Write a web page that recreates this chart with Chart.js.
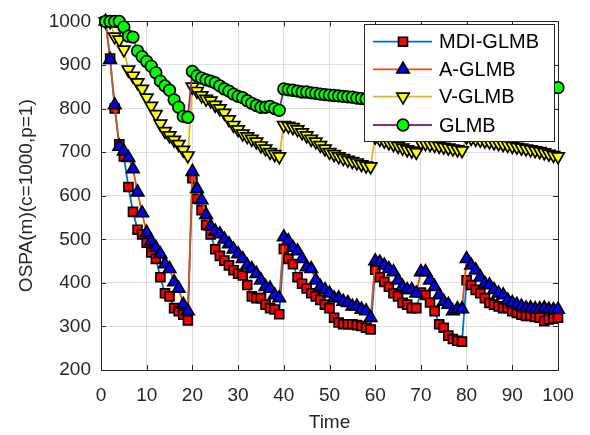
<!DOCTYPE html>
<html><head><meta charset="utf-8">
<script src="https://cdn.jsdelivr.net/npm/chart.js@4/dist/chart.umd.min.js"></script>
<style>html,body{margin:0;padding:0;background:#fff}#wrap{width:590px;height:435px}</style>
</head><body><div id="wrap"><canvas id="c" width="590" height="435"></canvas></div>
<script>
const times = [1,2,3,4,5,6,7,8,9,10,11,12,13,14,15,16,17,18,19,20,21,22,23,24,25,26,27,28,29,30,31,32,33,34,35,36,37,38,39,40,41,42,43,44,45,46,47,48,49,50,51,52,53,54,55,56,57,58,59,60,61,62,63,64,65,66,67,68,69,70,71,72,73,74,75,76,77,78,79,80,81,82,83,84,85,86,87,88,89,90,91,92,93,94,95,96,97,98,99,100];
const seriesNames = ['MDI-GLMB','A-GLMB','V-GLMB','GLMB'];
const mdiGlmb = [1000,915,800,718,690,620,563,522,511,492,470,455,413,376,369,342,335,327,314,
 640,593,567,533,511,477,462,451,440,429,421,417,395,369,365,365,350,342,339,328,
 478,455,443,413,398,387,376,369,361,350,342,320,309,305,305,305,303,301,297,293,
 430,413,402,391,376,369,354,350,342,342,
 378,372,355,335,305,297,279,271,267,265,
 406,395,384,376,365,354,350,346,342,342,335,331,327,324,324,322,320,312,316,318,320];
const aGlmb = [1000,912,808,713,702,687,661,608,560,515,496,481,466,443,432,402,387,350,335,
 655,616,590,556,530,518,512,500,489,477,466,455,440,432,421,406,391,387,372,365,
 505,496,481,473,455,436,432,406,391,384,376,365,365,357,354,346,346,339,335,320,
 450,447,440,432,425,406,391,384,384,376,
 425,425,406,391,372,357,350,335,340,340,
 455,440,429,413,398,395,384,376,372,360,354,350,346,342,342,340,340,342,339,338,339];
const vGlmb = [1000,1000,965,958,935,889,875,860,845,825,806,787,765,748,738,728,718,705,692,
 850,840,830,822,818,808,800,790,775,762,752,742,736,730,724,715,708,700,695,690,
 762,760,757,752,745,738,730,724,716,708,700,695,690,686,682,679,676,672,669,667,
 735,730,726,722,718,714,710,706,703,700,
 722,720,718,716,714,712,710,708,706,704,
 735,732,730,728,726,724,722,720,718,716,714,712,710,708,706,704,702,699,696,693,690];
const glmb = [1000,1000,1000,1000,987,966,964,932,919,908,897,882,863,852,842,820,803,782,780,
 885,875,870,866,863,859,852,845,840,833,828,825,818,812,807,803,803,805,800,796,
 845,843,842,840,838,838,836,835,833,832,831,830,829,828,827,826,824,823,822,820,
 875,872,870,868,866,864,862,860,858,856,
 868,866,864,862,860,858,856,855,854,853,
 865,864,863,862,861,860,859,858,857,856,855,854,853,852,851,851,850,850,849,848,848];
const xTicks = [0,10,20,30,40,50,60,70,80,90,100];
const yTicks = [200,300,400,500,600,700,800,900,1000];
const xTitle = 'Time';
const yTitle = 'OSPA(m)(c=1000,p=1)';

const styles = [
 {line:'#0072BD', fill:'#FF0000', shape:'rect', r:6.3, rot:0, order:4},
 {line:'#D95319', fill:'#0000FF', shape:'triangle', r:7.2, rot:0, order:3},
 {line:'#EDB120', fill:'#FFFF00', shape:'triangle', r:7.2, rot:180, order:2},
 {line:'#7E2F8E', fill:'#00FF00', shape:'circle', r:5.8, rot:0, order:1}
];
const allSeries = [mdiGlmb, aGlmb, vGlmb, glmb];
const datasets = allSeries.map((vals, i) => ({
  label: seriesNames[i],
  data: times.map((t, k) => ({x: t, y: vals[k]})),
  borderColor: styles[i].line,
  borderWidth: 1.8,
  pointStyle: styles[i].shape,
  pointRotation: styles[i].rot,
  pointRadius: styles[i].r,
  pointBackgroundColor: styles[i].fill,
  pointBorderColor: '#000',
  pointBorderWidth: 1.7,
  tension: 0,
  clip: false,
  order: styles[i].order
}));

const FONT = "'Liberation Sans', Arial, Helvetica, sans-serif";
const AX = '#262626';

function drawMarker(ctx, st, x, y) {
  ctx.save();
  ctx.fillStyle = st.fill; ctx.strokeStyle = '#000'; ctx.lineWidth = 1.7;
  ctx.beginPath();
  if (st.shape === 'circle') { ctx.arc(x, y, st.r, 0, Math.PI*2); }
  else if (st.shape === 'rect') { const h = st.r*Math.SQRT1_2; ctx.rect(x-h, y-h, 2*h, 2*h); }
  else {
    let a = st.rot*Math.PI/180;
    for (let k=0;k<3;k++){ const px = x + Math.sin(a)*st.r, py = y - Math.cos(a)*st.r; if(k===0)ctx.moveTo(px,py); else ctx.lineTo(px,py); a += 2*Math.PI/3; }
    ctx.closePath();
  }
  ctx.fill(); ctx.stroke();
  ctx.restore();
}

const framePlugin = {
  id: 'frame',
  beforeDatasetsDraw(chart) {
    const {ctx, chartArea: a, scales: {x, y}} = chart;
    ctx.save();
    ctx.strokeStyle = AX; ctx.lineWidth = 1;
    ctx.strokeRect(Math.round(a.left)+0.5, Math.round(a.top)+0.5, Math.round(a.right-a.left), Math.round(a.bottom-a.top));
    const tl = 5;
    ctx.beginPath();
    xTicks.forEach(v => { const px = Math.round(x.getPixelForValue(v))+0.5;
      ctx.moveTo(px, a.bottom); ctx.lineTo(px, a.bottom-tl);
      ctx.moveTo(px, a.top); ctx.lineTo(px, a.top+tl); });
    yTicks.forEach(v => { const py = Math.round(y.getPixelForValue(v))+0.5;
      ctx.moveTo(a.left, py); ctx.lineTo(a.left+tl, py);
      ctx.moveTo(a.right, py); ctx.lineTo(a.right-tl, py); });
    ctx.stroke();
    ctx.restore();
  },
  afterDraw(chart) {
    const ctx = chart.ctx;
    const L = 364, T = 24, R = 554, B = 141;
    ctx.save();
    ctx.fillStyle = '#fff'; ctx.fillRect(L, T, R-L, B-T);
    ctx.strokeStyle = AX; ctx.lineWidth = 1;
    ctx.strokeRect(L+0.5, T+0.5, R-L, B-T);
    const rows = [41.7, 69.3, 96.7, 125];
    seriesNames.forEach((name, i) => {
      const yy = rows[i];
      ctx.strokeStyle = styles[i].line; ctx.lineWidth = 1.8;
      ctx.beginPath(); ctx.moveTo(373, yy); ctx.lineTo(432, yy); ctx.stroke();
      drawMarker(ctx, styles[i], 403, yy);
      ctx.fillStyle = '#000'; ctx.font = '20px ' + FONT;
      ctx.textAlign = 'left'; ctx.textBaseline = 'middle';
      ctx.fillText(name, 439, yy + 1);
    });
    ctx.restore();
  }
};

new Chart(document.getElementById('c'), {
  type: 'line',
  data: { datasets },
  options: {
    responsive: false, animation: false, devicePixelRatio: 1,
    layout: { padding: { left: 0, top: 14, right: 32, bottom: 0 } },
    plugins: { legend: { display: false }, tooltip: { enabled: false } },
    scales: {
      x: {
        type: 'linear', min: 0, max: 100,
        afterBuildTicks: s => { s.ticks = xTicks.map(v => ({value: v})); },
        afterFit: s => { s.height = 65; },
        grid: { color: 'rgba(38,38,38,0.14)', drawTicks: false, lineWidth: 1 },
        border: { display: false },
        ticks: { color: AX, font: { family: FONT, size: 19 }, padding: 14, maxRotation: 0, autoSkip: false, callback: v => String(v) },
        title: { display: true, text: xTitle, color: AX, font: { family: FONT, size: 19 }, padding: { top: 0, bottom: 1 } }
      },
      y: {
        type: 'linear', min: 200, max: 1000,
        afterBuildTicks: s => { s.ticks = yTicks.map(v => ({value: v})); },
        afterFit: s => { s.width = 101; },
        grid: { color: 'rgba(38,38,38,0.14)', drawTicks: false, lineWidth: 1 },
        border: { display: false },
        ticks: { color: AX, font: { family: FONT, size: 19 }, padding: 10, autoSkip: false, callback: v => String(v) },
        title: { display: true, text: yTitle, color: AX, font: { family: FONT, size: 19 }, padding: { top: 15, bottom: 0 } }
      }
    }
  },
  plugins: [framePlugin]
});
</script></body></html>
